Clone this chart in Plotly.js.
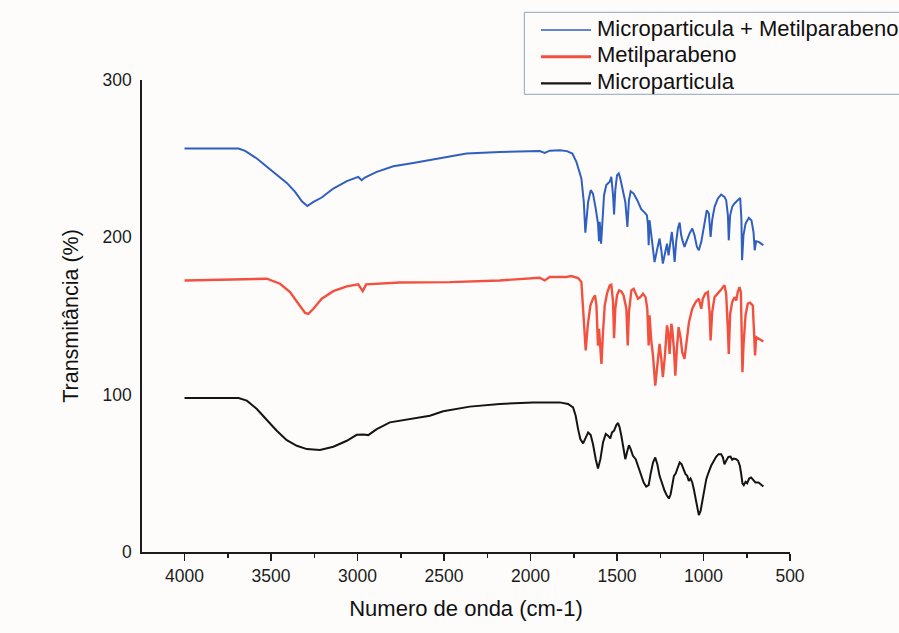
<!DOCTYPE html>
<html>
<head>
<meta charset="utf-8">
<script src="https://cdn.plot.ly/plotly-3.0.1.min.js"></script>
<style>html,body{margin:0;padding:0;background:#fdfcfb;}#chart{width:899px;height:633px;}</style>
</head>
<body>
<div id="chart"></div>
<script>
// Series names
const seriesNames = ["Microparticula + Metilparabeno", "Metilparabeno", "Microparticula"];
const seriesColors = ["#2f5fbf", "#f2513f", "#141414"];

// Microparticula + Metilparabeno (blue)
const mixWavenumber = [4000,3688,3650,3582,3524,3467,3409,3361,3322,3290,3255,3207,3140,3062,2996,2976,2958,2889,2793,2678,2563,2466,2370,2178,1947,1918,1889,1831,1790,1758,1735,1706,1692,1683,1667,1652,1639,1623,1610,1604,1600,1592,1585,1575,1562,1542,1533,1523,1517,1510,1500,1490,1481,1465,1452,1440,1431,1421,1404,1383,1360,1340,1327,1321,1317,1312,1302,1292,1283,1267,1254,1244,1235,1219,1211,1202,1190,1183,1175,1167,1158,1148,1138,1129,1119,1110,1096,1081,1065,1052,1038,1027,1013,994,981,969,959,950,936,917,898,879,869,859,854,846,834,821,811,802,788,781,777,769,757,738,723,711,704,696,681,667,654];
const mixTransmittance = [256.5,256.5,255.0,250.1,244.8,239.5,234.6,228.9,222.9,219.9,222.5,225.3,231.0,235.7,238.4,236.3,238.0,241.6,245.2,247.3,249.5,251.2,253.3,254.3,254.9,253.7,255.1,255.3,254.8,253.3,248.0,237.4,222.5,203.0,222.5,230.0,227.8,218.3,208.7,197.5,209.8,196.0,207.7,226.8,233.2,235.3,238.5,226.8,214.5,230.0,239.5,240.6,237.4,228.9,222.5,206.6,223.6,229.3,227.8,223.6,217.9,215.7,214.0,207.7,195.0,210.9,201.3,195.0,184.3,192.8,199.2,191.8,183.3,191.8,196.0,188.6,198.1,203.4,195.0,184.3,197.1,205.6,209.4,201.3,197.1,193.9,198.1,202.4,205.6,201.3,193.9,191.8,197.1,207.7,217.2,215.1,200.2,210.9,219.4,224.7,227.2,225.7,223.6,214.0,198.1,214.0,219.4,221.5,222.5,223.6,225.1,211.9,185.4,201.3,208.7,212.4,210.9,203.4,191.8,197.5,197.1,196.0,195.0];

// Metilparabeno (red)
const metWavenumber = [4000,3750,3524,3448,3390,3342,3303,3284,3255,3207,3140,3062,2996,2970,2950,2755,2466,2178,1947,1918,1889,1831,1793,1764,1725,1706,1696,1681,1669,1654,1639,1627,1619,1610,1604,1598,1590,1581,1571,1558,1542,1533,1523,1517,1510,1500,1488,1475,1462,1446,1438,1431,1417,1404,1388,1379,1365,1350,1335,1325,1317,1312,1302,1292,1279,1267,1254,1244,1235,1223,1211,1204,1196,1186,1181,1171,1163,1154,1144,1133,1123,1110,1100,1084,1065,1046,1027,1013,1004,990,975,965,959,950,936,917,898,879,869,859,854,846,834,821,811,802,792,784,779,775,769,757,744,731,715,709,702,696,681,667,654];
const metTransmittance = [172.6,173.2,173.7,170.5,165.2,157.8,152.0,151.4,154.6,161.0,165.8,168.8,170.1,165.8,170.1,171.3,171.5,172.6,174.3,172.6,174.8,174.8,174.8,175.4,174.1,171.6,154.6,128.1,144.0,156.7,161.0,163.1,156.7,131.2,141.9,130.2,119.6,139.7,156.7,164.2,169.5,169.9,158.8,135.9,154.6,163.1,166.3,165.6,163.1,154.6,131.2,152.5,166.3,167.3,163.1,161.0,162.0,164.2,162.0,154.6,131.2,150.4,134.4,124.9,105.8,118.5,132.3,122.8,111.1,124.9,144.0,139.7,125.9,145.1,141.9,129.1,112.1,129.1,142.9,136.6,127.0,122.8,133.4,146.1,154.6,158.8,161.0,154.6,161.0,164.2,165.2,152.5,134.4,152.5,162.0,164.2,166.9,169.5,164.2,140.8,125.9,151.4,158.8,162.0,159.9,165.2,168.4,165.2,139.7,114.3,131.2,150.4,157.8,158.4,156.7,145.0,124.9,136.6,135.5,134.4,133.8];

// Microparticula (black)
const micWavenumber = [4000,3688,3640,3582,3524,3467,3409,3351,3293,3217,3140,3062,3005,2967,2938,2889,2813,2755,2678,2582,2505,2466,2351,2178,1985,1831,1783,1754,1739,1725,1712,1696,1681,1667,1652,1639,1623,1610,1596,1581,1565,1552,1539,1529,1517,1504,1494,1485,1475,1465,1452,1440,1431,1421,1408,1392,1379,1363,1346,1331,1317,1306,1292,1279,1267,1254,1240,1225,1211,1200,1190,1181,1171,1161,1150,1138,1127,1115,1104,1094,1085,1075,1065,1056,1046,1036,1027,1017,1008,998,984,971,956,940,927,913,898,888,879,869,856,844,834,825,811,800,790,782,775,767,757,748,736,725,715,700,682,667,654];
const micTransmittance = [97.9,97.9,96.2,90.9,83.9,77.1,71.1,67.5,65.4,64.8,66.9,70.7,74.5,74.7,74.3,78.1,82.4,83.4,85.1,86.6,89.4,90.2,92.4,94.1,95.1,95.1,94.1,91.9,86.6,78.1,71.8,69.0,72.8,76.0,74.3,68.6,59.0,53.1,59.0,69.6,75.0,73.9,72.2,76.0,77.1,80.7,82.0,79.2,73.9,67.5,59.0,64.3,67.9,65.4,61.1,59.0,54.8,49.5,44.2,41.6,42.5,49.5,56.9,60.1,55.8,48.4,43.1,38.9,35.7,34.0,36.7,42.0,48.4,49.9,53.1,56.9,55.8,52.7,49.5,48.4,45.2,46.7,44.2,39.9,33.5,27.2,23.4,26.1,31.4,37.8,46.3,50.5,54.8,58.0,60.5,62.2,62.2,60.1,55.8,58.0,60.5,60.7,58.6,59.4,59.0,58.0,54.8,49.5,43.7,42.5,44.6,43.7,46.7,47.4,45.8,44.2,44.2,43.1,41.6];

// Axis ticks
const xTickValues = [4000,3500,3000,2500,2000,1500,1000,500];
const yTickValues = [0,100,200,300];

const FONT = "Liberation Sans, Arial, Helvetica, sans-serif";
const AXIS_COLOR = "#1c1c1c";
const legendLineWidths = [1.6, 3, 2.2];

const traces = [
  {x: mixWavenumber, y: mixTransmittance, name: seriesNames[0], type: "scatter", mode: "lines",
   line: {color: seriesColors[0], width: 2}},
  {x: metWavenumber, y: metTransmittance, name: seriesNames[1], type: "scatter", mode: "lines",
   line: {color: seriesColors[1], width: 2.4}},
  {x: micWavenumber, y: micTransmittance, name: seriesNames[2], type: "scatter", mode: "lines",
   line: {color: seriesColors[2], width: 2}}
];

// Legend box drawn in paper coordinates (box runs past the right edge, as in the source figure)
const legendRows = [1.1059, 1.0494, 0.9930];
const shapes = [
  {type: "rect", xref: "paper", yref: "paper", x0: 0.5900, x1: 1.18, y0: 0.9697, y1: 1.1434,
   line: {color: "#8ea6b6", width: 1}, fillcolor: "rgba(0,0,0,0)", layer: "above"}
];
const annotations = [];
seriesNames.forEach((name, i) => {
  shapes.push({type: "line", xref: "paper", yref: "paper", x0: 0.6157, x1: 0.6929,
    y0: legendRows[i], y1: legendRows[i], line: {color: seriesColors[i], width: legendLineWidths[i]}});
  annotations.push({xref: "paper", yref: "paper", x: 0.6990, y: legendRows[i] + 0.004,
    xanchor: "left", yanchor: "middle", showarrow: false, text: name, align: "left",
    font: {family: FONT, size: 22, color: "#111"}});
});

const layout = {
  width: 899, height: 633,
  paper_bgcolor: "#fdfcfb", plot_bgcolor: "#fdfcfb",
  margin: {l: 142, r: 109, t: 80, b: 81, autoexpand: false},
  font: {family: FONT, color: "#1c1c1c"},
  showlegend: false,
  shapes: shapes,
  annotations: annotations,
  xaxis: {
    range: [4246, 500], autorange: false,
    tickmode: "array", tickvals: xTickValues, ticktext: xTickValues.map(String),
    ticks: "outside", ticklen: 7, tickwidth: 1.5, tickcolor: AXIS_COLOR,
    minor: {dtick: 250, tick0: 500, ticks: "outside", ticklen: 4, tickwidth: 1.5, tickcolor: AXIS_COLOR},
    showline: true, linecolor: AXIS_COLOR, linewidth: 1.8,
    showgrid: false, zeroline: false,
    tickfont: {family: FONT, size: 17.5, color: "#1c1c1c"},
    title: {text: "Numero de onda (cm-1)", font: {family: FONT, size: 22, color: "#111"}, standoff: 16},
    automargin: false
  },
  yaxis: {
    range: [0, 300], autorange: false,
    tickmode: "array", tickvals: yTickValues, ticktext: yTickValues.map(String),
    ticks: "", showline: true, linecolor: AXIS_COLOR, linewidth: 1.8,
    showgrid: false, zeroline: false, ticklabelstandoff: 5,
    tickfont: {family: FONT, size: 17.5, color: "#1c1c1c"},
    title: {text: "Transmitância (%)\u00A0\u00A0\u00A0\u00A0\u00A0", font: {family: FONT, size: 21.5, color: "#111"}, standoff: 18},
    automargin: false
  }
};

Plotly.newPlot("chart", traces, layout, {staticPlot: true, displayModeBar: false});
</script>
</body>
</html>
